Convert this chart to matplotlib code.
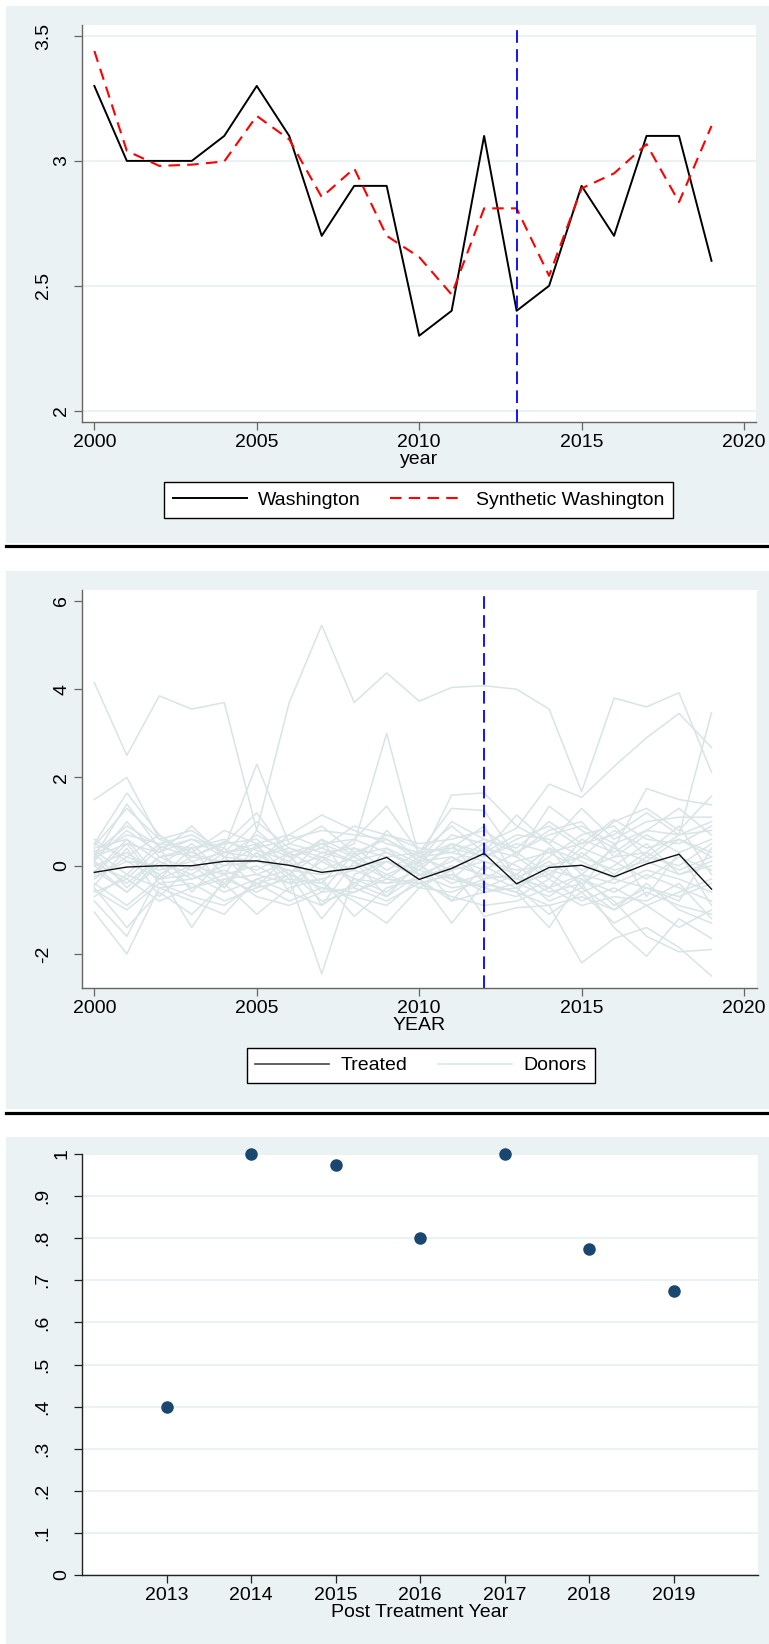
import matplotlib
matplotlib.use("Agg")
import matplotlib.pyplot as plt
from matplotlib.patches import Rectangle
from matplotlib.lines import Line2D

plt.rcParams['font.family'] = ['Liberation Sans', 'DejaVu Sans']

W, H = 769, 1644
BG = '#EAF2F3'
NAVY = '#1A476F'
DONOR = '#D8E4E6'
FS = 14

# ---- data ----
years = list(range(2000, 2020))
washington = [3.3, 3.0, 3.0, 3.0, 3.1, 3.3, 3.1, 2.7, 2.9, 2.9,
              2.3, 2.4, 3.1, 2.4, 2.5, 2.9, 2.7, 3.1, 3.1, 2.6]
synthetic = [3.44, 3.04, 2.98, 2.985, 2.998, 3.18, 3.086, 2.855, 2.97, 2.70,
             2.615, 2.465, 2.81, 2.81, 2.54, 2.89, 2.95, 3.067, 2.835, 3.14]
treated_year_1 = 2013

treated = [-0.15, -0.03, 0.0, 0.0, 0.10, 0.11, 0.01, -0.15, -0.06, 0.19,
           -0.31, -0.06, 0.28, -0.41, -0.04, 0.01, -0.25, 0.04, 0.26, -0.53]
treated_year_2 = 2012

donors = [
    [4.15, 2.50, 3.85, 3.55, 3.70, 0.80, 3.70, 5.45, 3.70, 4.37, 3.73, 4.04, 4.08, 4.00, 3.55, 1.68, 3.80, 3.60, 3.92, 2.12],
    [0.30, 0.90, 0.45, 0.20, 0.55, 0.35, 0.10, 0.60, 0.25, 0.40, 0.05, 0.70, 0.50, 0.85, 1.85, 1.55, 2.25, 2.90, 3.45, 2.68],
    [0.10, -0.40, 0.20, 0.30, 0.00, 0.45, -0.20, 0.30, 0.10, -0.30, 0.20, -0.10, 0.40, 0.20, -0.30, 0.60, 0.30, 0.80, 0.70, 3.47],
    [0.20, 0.50, 0.30, 0.60, 0.40, 2.30, 0.50, 0.90, 0.30, 0.60, 0.10, 1.60, 1.65, 0.90, 0.50, -0.20, 0.40, 0.10, 0.60, 0.30],
    [0.40, 0.60, 0.10, -0.20, 0.30, 0.20, 0.40, 0.20, 0.50, 3.00, 0.20, 0.30, 0.10, -0.20, 0.40, 0.10, -0.30, 0.20, 0.00, 0.50],
    [-0.30, 0.20, -0.10, 0.10, -0.40, 0.30, -0.30, -2.45, -0.20, 0.10, -0.30, 0.20, -0.10, 0.30, -0.20, 0.40, 0.10, -0.30, 0.20, -0.10],
    [1.50, 2.00, 0.60, 0.80, 0.30, 0.50, 0.20, 0.40, 0.10, 0.30, -0.10, 0.50, 0.20, 0.60, 0.90, 0.40, 1.00, 1.30, 0.80, 1.58],
    [-1.05, -2.00, -0.50, -0.80, -1.10, -0.30, -0.60, -0.90, -0.40, -0.70, -0.20, -0.50, -0.40, -0.60, -0.90, -2.20, -1.65, -1.40, -1.85, -2.50],
    [-0.80, -1.60, -0.20, -1.40, -0.30, -0.60, -0.20, -1.20, -0.30, -0.40, -0.10, -0.30, -0.50, -0.20, -0.60, -0.40, -1.40, -2.05, -1.20, -1.65],
    [0.50, 1.65, 0.70, 0.20, 0.50, 1.20, 0.20, 0.50, 0.60, 1.35, 0.30, 1.30, 1.25, 0.20, 1.35, 0.80, 0.40, 1.75, 1.50, 1.38],
    [0.20, 1.40, 0.40, 0.60, 0.20, 0.10, 0.70, 1.15, 0.80, 0.50, 0.30, 0.90, 0.30, 1.15, 0.50, 1.30, 0.60, 1.00, 1.10, 1.10],
    [-0.50, -1.40, -0.60, -1.10, -0.40, -1.10, -0.50, -0.30, -1.15, -0.50, -0.30, -1.30, -0.40, -0.60, -1.40, -0.30, -0.80, -1.60, -1.95, -1.90],
    [0.00, 0.30, -0.20, 0.20, 0.10, -0.10, 0.30, -0.10, 0.20, -0.20, 0.10, 0.20, -0.30, 0.10, 0.30, -0.10, 0.20, 0.30, -0.10, 0.20],
    [0.35, -0.20, 0.50, 0.40, 0.60, 0.20, 0.50, 0.30, 0.40, 0.20, 0.30, 0.40, 0.20, 0.50, 0.30, 0.50, 1.05, 0.60, 0.50, 0.90],
    [-0.20, 0.50, -0.40, -0.30, -0.10, -0.40, -0.20, -0.50, -0.60, -0.30, -0.40, -0.20, -0.60, -0.40, -0.20, -0.60, -0.30, -0.50, -0.70, -0.40],
    [0.10, 1.00, 0.20, 0.40, 0.50, 0.60, 0.00, 0.20, -0.10, 0.80, 0.10, 1.00, 0.60, 0.30, 0.80, 1.00, 0.20, 0.70, 0.30, 0.60],
    [-0.60, -0.30, -0.80, -0.50, -0.20, -0.70, -0.90, -0.60, -0.50, -0.80, -0.40, -0.70, -0.90, -0.80, -0.50, -0.90, -0.70, -0.80, -0.40, -1.20],
    [0.50, 0.20, 0.70, 0.10, 0.30, 1.00, 0.40, 0.10, 0.60, 0.30, 0.00, 0.40, 0.90, -0.30, 0.20, 0.70, 0.90, 0.20, 0.70, 1.00],
    [-0.10, -0.60, 0.00, -0.50, -0.30, -0.20, -0.40, 0.10, -0.30, -0.60, 0.00, -0.40, -0.20, -0.50, -0.10, -0.30, -0.60, -0.20, -0.50, -0.80],
    [0.25, 0.70, 0.50, 0.70, 0.30, 0.40, 0.60, 0.80, 0.70, 0.60, 0.20, 0.50, 0.30, 0.70, 0.60, 0.20, 0.80, 0.40, 0.60, 0.20],
    [-0.40, -0.90, -0.30, -0.20, -0.60, -0.30, -0.10, -0.80, -0.60, -0.20, -0.50, -0.10, -1.15, -0.95, -0.90, -0.70, -1.00, -0.60, -0.90, -1.10],
    [0.15, 0.80, 0.30, 0.90, 0.20, 0.70, 0.30, 0.50, 0.20, 0.70, 0.40, 0.30, 0.60, 0.40, 1.00, 0.50, 0.70, 1.20, 0.70, 0.80],
    [-0.70, -0.20, -0.50, -0.40, -0.80, -0.50, -0.30, -0.40, -0.80, -1.30, -0.50, -0.60, -0.30, -0.20, -0.80, -0.50, -1.00, -0.40, -1.00, -1.30],
    [0.00, -0.60, 0.10, -0.30, 0.00, 0.10, -0.10, -0.20, 0.00, 0.10, -0.20, -0.10, 0.10, -0.10, 0.00, 0.20, -0.10, 0.10, -0.20, 0.00],
    [0.45, 1.30, 0.60, 0.30, 0.80, 0.50, 0.70, 0.40, 0.90, 0.70, 0.50, 0.60, 0.80, 0.30, 0.70, 0.90, 0.50, 0.80, 1.30, 0.70],
    [-0.25, 0.10, -0.30, 0.00, -0.20, 0.00, -0.40, -0.30, -0.10, -0.40, -0.30, 0.00, -0.20, -0.30, -0.50, -0.20, -0.40, -0.10, -0.30, -0.60],
    [0.30, -0.50, 0.20, -0.10, 0.40, -0.20, 0.10, -0.60, 0.30, -0.30, -0.40, -0.20, -0.50, -0.70, -0.30, -0.80, -0.50, -0.90, -0.60, -0.30],
    [-0.15, 0.60, -0.30, 0.40, -0.50, 0.50, -0.60, 0.20, -0.40, 0.10, -0.10, 0.50, -0.40, -0.60, 0.40, -0.50, 0.50, -0.70, 0.30, -0.90],
    [0.05, -0.30, 0.40, -0.60, 0.20, -0.50, 0.30, -0.90, 0.10, -0.70, 0.10, -0.80, 0.00, -0.40, -0.70, -0.20, -0.90, -0.50, -0.80, 0.40],
    [-0.45, 0.40, -0.70, 0.00, -0.50, 0.30, -0.20, 0.60, -0.50, 0.40, -0.20, 0.10, 0.50, -0.30, 0.10, -0.40, 0.00, 0.50, -0.20, 0.10],
    [0.60, 0.10, 0.00, 0.50, -0.20, 0.80, 0.20, -0.40, 0.40, -0.10, 0.30, -0.30, 0.30, 0.00, -0.50, 0.30, -0.20, 0.30, 0.90, -0.20],
    [-0.55, -1.00, -0.40, -0.70, -0.90, -0.40, -0.80, -0.50, -0.70, -0.90, -0.30, -0.80, -0.60, -0.50, -1.10, -0.60, -1.30, -0.90, -1.40, -1.00],
]

post_years = [2013, 2014, 2015, 2016, 2017, 2018, 2019]
post_vals = [0.40, 1.00, 0.975, 0.80, 1.00, 0.775, 0.675]


def box(l, t, r, b):
    # pixel box (from top-left) -> figure fraction
    return [l / W, 1 - b / H, (r - l) / W, (b - t) / H]


def style_axes(ax, spine_color):
    for s in ['top', 'right']:
        ax.spines[s].set_visible(False)
    for s in ['left', 'bottom']:
        ax.spines[s].set_color(spine_color)
        ax.spines[s].set_linewidth(1.0)
    ax.tick_params(direction='out', length=5.8, width=0.9, color=spine_color,
                   labelsize=FS, pad=3)
    ax.tick_params(axis='y', labelrotation=90)
    for lab in ax.get_yticklabels():
        lab.set_va('center')
    # stata puts short rotated labels closer to the axis
    for tick, lab in zip(ax.yaxis.get_major_ticks(), ax.get_yticklabels()):
        tick.set_pad(2.5 if len(lab.get_text()) == 1 else 16)


def add_legend(handles, labels, cx, cy, colsp):
    leg = fig.legend(handles, labels, loc='center', bbox_to_anchor=(cx / W, 1 - cy / H),
                     ncol=2, frameon=True, fancybox=False, edgecolor='black',
                     facecolor='white', framealpha=1, fontsize=FS, handlelength=3.8,
                     handletextpad=0.6, columnspacing=colsp, borderpad=0.45)
    leg.get_frame().set_linewidth(1.0)
    return leg


fig = plt.figure(figsize=(W / 100, H / 100), dpi=100)

for t, b in [(6, 543), (571, 1109), (1137, 1644)]:
    fig.patches.append(Rectangle((6 / W, 1 - b / H), (W - 6) / W, (b - t) / H,
                                 transform=fig.transFigure, facecolor=BG,
                                 edgecolor='none', zorder=-5))
for y in [545.7, 1112.5]:
    fig.lines.append(Line2D([6 / W, 1], [1 - y / H] * 2, transform=fig.transFigure,
                            color='black', lw=2.3, zorder=-4))

# ---- panel 1 ----
ax1 = fig.add_axes(box(82, 25, 756, 421.7))
ax1.set_xlim(1999.62, 2020.37)
ax1.set_ylim(1.956, 3.544)
ax1.set_yticks([2, 2.5, 3, 3.5], labels=['2', '2.5', '3', '3.5'])
ax1.set_xticks([2000, 2005, 2010, 2015, 2020])
ax1.grid(axis='y', color=BG, lw=1.5)
ax1.set_axisbelow(True)
l_w, = ax1.plot(years, washington, color='black', lw=1.4)
l_s, = ax1.plot(years, synthetic, color='#FF0000', lw=1.5, dashes=(5.5, 3.5))
ax1.axvline(treated_year_1, color='#0000FF', lw=1.3, dashes=(7, 3.5))
ax1.set_xlabel('year', fontsize=FS, labelpad=0)
style_axes(ax1, '#666666')
add_legend([l_w, l_s], ['Washington', 'Synthetic Washington'], 418.5, 500, 1.5)

# ---- panel 2 ----
ax2 = fig.add_axes(box(82, 590, 757, 987.7))
ax2.set_xlim(1999.62, 2020.4)
ax2.set_ylim(-2.764, 6.249)
ax2.set_yticks([-2, 0, 2, 4, 6], labels=['-2', '0', '2', '4', '6'])
ax2.set_xticks([2000, 2005, 2010, 2015, 2020])
for d in donors:
    ax2.plot(years, d, color=DONOR, lw=1.1)
l_t, = ax2.plot(years, treated, color='#111111', lw=1.0)
ax2.axvline(treated_year_2, color='#0000FF', lw=1.3, dashes=(7, 3.5))
ax2.set_xlabel('YEAR', fontsize=FS, labelpad=0)
style_axes(ax2, '#666666')
h_t = Line2D([], [], color='#444444', lw=1.2)
h_d = Line2D([], [], color=DONOR, lw=1.1)
add_legend([h_t, h_d], ['Treated', 'Donors'], 421, 1065.5, 1.55)

# ---- panel 3 ----
ax3 = fig.add_axes(box(82, 1154, 758, 1575))
ax3.set_xlim(2012, 2020)
ax3.set_ylim(0, 1)
yt = [i / 10 for i in range(11)]
ax3.set_yticks(yt, labels=['0', '.1', '.2', '.3', '.4', '.5', '.6', '.7', '.8', '.9', '1'])
ax3.set_xticks(post_years)
ax3.grid(axis='y', color=BG, lw=1.5)
ax3.set_axisbelow(True)
ax3.plot(post_years, post_vals, 'o', color=NAVY, ms=8, clip_on=False, zorder=3)
ax3.set_xlabel('Post Treatment Year', fontsize=FS, labelpad=0)
style_axes(ax3, '#222222')

fig.savefig('out.png', dpi=100)
